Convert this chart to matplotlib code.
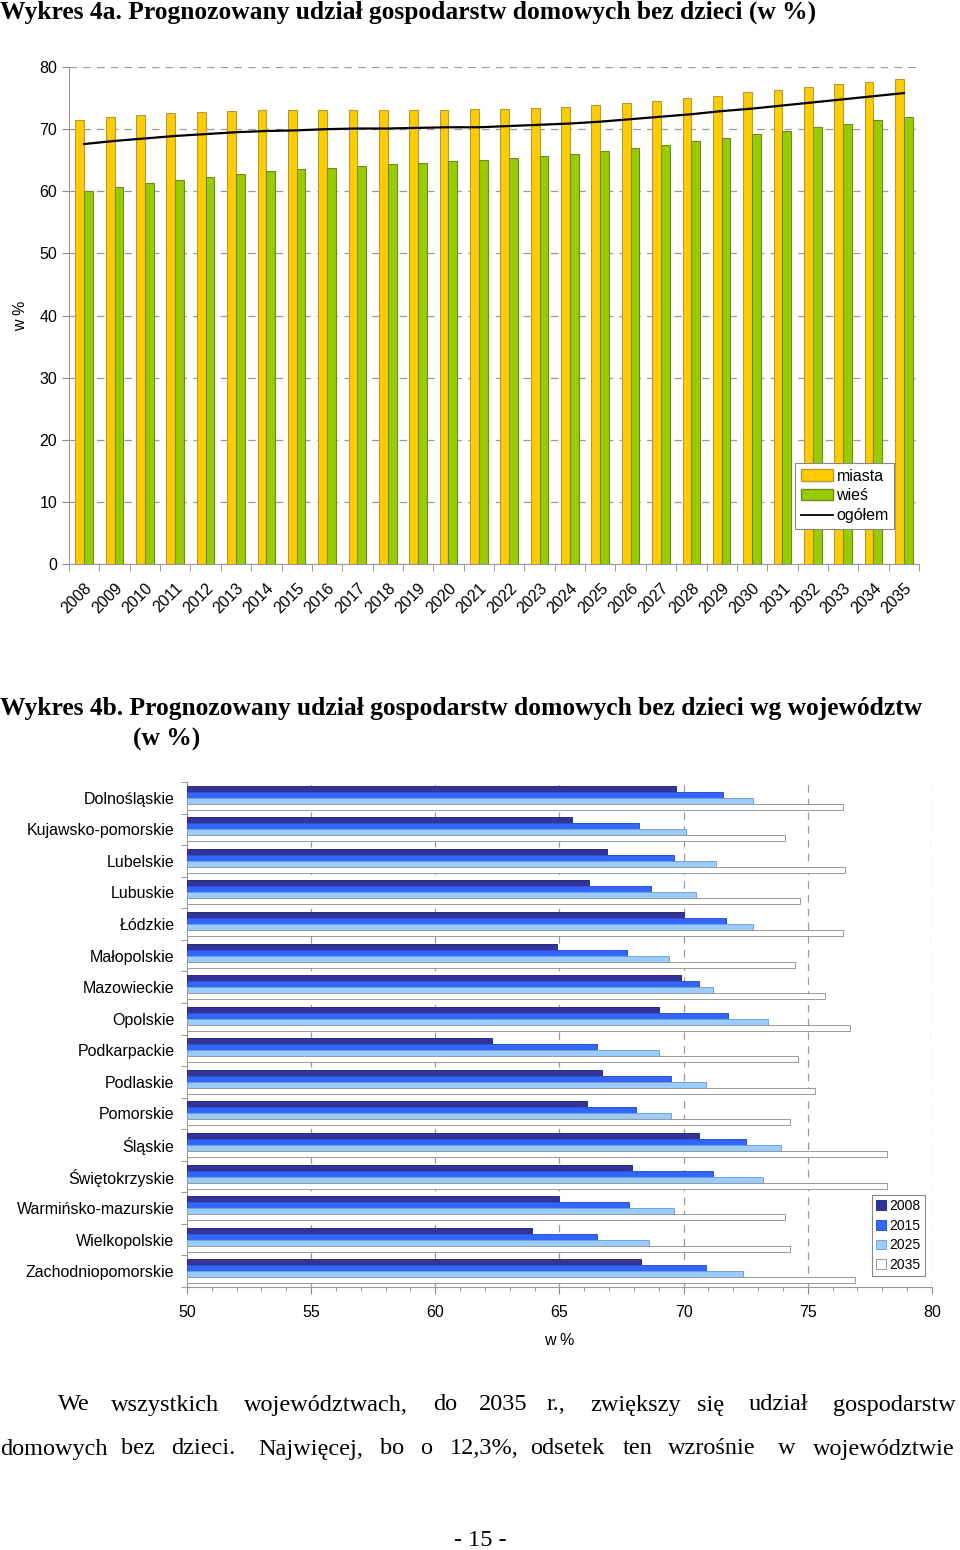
import numpy as np
import matplotlib
matplotlib.use("Agg")
import matplotlib.pyplot as plt
import matplotlib.transforms as mtrans
from matplotlib.patches import Patch
from matplotlib.lines import Line2D
from matplotlib.ticker import MultipleLocator

## data - chart 4a
lata = [str(r) for r in range(2008, 2036)]
miasta = [71.4, 71.9, 72.3, 72.6, 72.8, 72.9, 73.0, 73.1, 73.1, 73.1, 73.1, 73.1, 73.1, 73.2,
          73.3, 73.4, 73.6, 73.9, 74.2, 74.6, 75.0, 75.4, 75.9, 76.3, 76.8, 77.3, 77.6, 78.0]
wies = [60.0, 60.7, 61.3, 61.8, 62.3, 62.7, 63.2, 63.6, 63.8, 64.1, 64.4, 64.6, 64.8, 65.1,
        65.3, 65.6, 66.0, 66.4, 66.9, 67.4, 68.1, 68.6, 69.2, 69.7, 70.3, 70.9, 71.4, 71.9]
ogolem = [67.6, 68.1, 68.5, 68.9, 69.2, 69.5, 69.7, 69.8, 70.0, 70.1, 70.1, 70.2, 70.3, 70.3,
          70.5, 70.7, 70.9, 71.2, 71.6, 72.0, 72.4, 72.9, 73.3, 73.8, 74.3, 74.8, 75.3, 75.8]

## data - chart 4b
wojewodztwa = ['Dolnośląskie', 'Kujawsko-pomorskie', 'Lubelskie', 'Lubuskie', 'Łódzkie',
               'Małopolskie', 'Mazowieckie', 'Opolskie', 'Podkarpackie', 'Podlaskie',
               'Pomorskie', 'Śląskie', 'Świętokrzyskie', 'Warmińsko-mazurskie',
               'Wielkopolskie', 'Zachodniopomorskie']
lata_b = ['2008', '2015', '2025', '2035']
w2008 = [69.7, 65.5, 66.9, 66.2, 70.0, 64.9, 69.9, 69.0, 62.3, 66.7, 66.1, 70.6, 67.9, 65.0, 63.9, 68.3]
w2015 = [71.6, 68.2, 69.6, 68.7, 71.7, 67.7, 70.6, 71.8, 66.5, 69.5, 68.1, 72.5, 71.2, 67.8, 66.5, 70.9]
w2025 = [72.8, 70.1, 71.3, 70.5, 72.8, 69.4, 71.2, 73.4, 69.0, 70.9, 69.5, 73.9, 73.2, 69.6, 68.6, 72.4]
w2035 = [76.4, 74.1, 76.5, 74.7, 76.4, 74.5, 75.7, 76.7, 74.6, 75.3, 74.3, 78.2, 78.2, 74.1, 74.3, 76.9]

## body text lines (words with their x position in pixels)
linia1 = [('We', 58), ('wszystkich', 111), ('województwach,', 244), ('do', 433), ('2035', 479),
          ('r.,', 547), ('zwiększy', 590), ('się', 697), ('udział', 749), ('gospodarstw', 833)]
linia2 = [('domowych', 0), ('bez', 121), ('dzieci.', 171), ('Najwięcej,', 258), ('bo', 380),
          ('o', 420), ('12,3%,', 450), ('odsetek', 530), ('ten', 623), ('wzrośnie', 668),
          ('w', 778), ('województwie', 813)]

plt.rcParams['font.family'] = ['Liberation Sans', 'DejaVu Sans']
W, H = 960, 1550
fig = plt.figure(figsize=(W / 100, H / 100), dpi=100)

def fx(x):
    return x / W

def fy(y):
    return 1 - y / H

serif = ['Liberation Serif', 'DejaVu Serif']

## titles
fig.text(fx(0), fy(12), 'Wykres 4a. Prognozowany udział gospodarstw domowych bez dzieci (w %)',
         family=serif, fontweight='bold', fontsize=18.4, va='center', ha='left')
fig.text(fx(0), fy(709), 'Wykres 4b. Prognozowany udział gospodarstw domowych bez dzieci wg województw',
         family=serif, fontweight='bold', fontsize=18.4, va='center', ha='left')
fig.text(fx(133), fy(739), '(w %)', family=serif, fontweight='bold', fontsize=18.4,
         va='center', ha='left')

grid_col = '#9a9a9a'

## ---- chart 4a ----
ax1 = fig.add_axes([fx(69), fy(564), fx(919) - fx(69), fy(67) - fy(564)])
x = np.arange(len(lata))
bw = 0.29
ax1.bar(x - bw / 2, miasta, bw, color='#FFCC00', edgecolor='#B39B3A', linewidth=0.8,
        label='miasta', zorder=3)
ax1.bar(x + bw / 2, wies, bw, color='#99CC00', edgecolor='#6F8A20', linewidth=0.8,
        label='wieś', zorder=3)
ax1.plot(x, ogolem, color='black', linewidth=1.6, label='ogółem', zorder=4)
ax1.set_xlim(-0.5, len(lata) - 0.5)
ax1.set_ylim(0, 80)
ax1.set_yticks(range(0, 81, 10))
ax1.set_xticks(x)
ax1.set_xticklabels(lata, rotation=45, ha='right', rotation_mode='anchor', fontsize=11.5)
## shift the rotated year labels a little to the left, like in the source
off = mtrans.ScaledTranslation(-5 / 100, -2 / 100, fig.dpi_scale_trans)
for lab in ax1.get_xticklabels():
    lab.set_transform(lab.get_transform() + off)
ax1.set_xticks(np.arange(-0.5, len(lata), 1), minor=True)
ax1.tick_params(axis='x', which='major', length=0, pad=12)
ax1.tick_params(axis='x', which='minor', length=5, color='#888888')
ax1.tick_params(axis='y', labelsize=11.5, length=5, color='#888888')
ax1.yaxis.grid(True, color=grid_col, linestyle=(0, (6, 5)), linewidth=0.9, zorder=0)
for s in ['top', 'right']:
    ax1.spines[s].set_visible(False)
ax1.spines['left'].set_color('#999999')
ax1.spines['bottom'].set_color('#999999')
ax1.set_ylabel('w %', fontsize=11.5, labelpad=8)
leg1 = ax1.legend(handles=[Patch(facecolor='#FFCC00', edgecolor='#B39B3A', label='miasta'),
                           Patch(facecolor='#99CC00', edgecolor='#6F8A20', label='wieś'),
                           Line2D([0], [0], color='black', linewidth=1.3, label='ogółem')],
                  loc='upper left', bbox_to_anchor=((795 - 69) / 850, (564 - 463) / 497),
                  fontsize=11.5, fancybox=False, edgecolor='#888888', framealpha=1,
                  handlelength=2.0, handletextpad=0.25, borderpad=0.35, labelspacing=0.3,
                  borderaxespad=0)
leg1.get_frame().set_linewidth(0.8)

## ---- chart 4b ----
ax2 = fig.add_axes([fx(187), fy(1287), fx(932) - fx(187), fy(782) - fy(1287)])
y = np.arange(len(wojewodztwa))
bh = 0.19
serie = [w2008, w2015, w2025, w2035]
kolory = ['#333399', '#3366FF', '#99CCFF', '#FFFFFF']
krawedzie = ['#2a2a80', '#2a55cc', '#7aa0cc', '#999999']
for i, (vals, c, e, lab) in enumerate(zip(serie, kolory, krawedzie, lata_b)):
    ax2.barh(y - 1.5 * bh + i * bh, np.array(vals) - 50, bh, left=50, color=c,
             edgecolor=e, linewidth=0.7, label=lab, zorder=3)
ax2.set_xlim(50, 80)
ax2.set_ylim(len(wojewodztwa) - 0.5, -0.5)
ax2.set_xticks(range(50, 81, 5))
ax2.xaxis.set_minor_locator(MultipleLocator(1))
ax2.set_yticks(y)
ax2.set_yticklabels(wojewodztwa, fontsize=11.5)
ax2.set_yticks(np.arange(-0.5, len(wojewodztwa), 1), minor=True)
ax2.tick_params(axis='y', which='major', length=0, pad=9)
ax2.tick_params(axis='y', which='minor', length=4, color='#888888')
ax2.tick_params(axis='x', which='major', labelsize=11.5, length=5, color='#888888', pad=8)
ax2.tick_params(axis='x', which='minor', length=3, color='#888888')
ax2.xaxis.grid(True, color=grid_col, linestyle=(0, (6, 5)), linewidth=0.9, zorder=0)
for s in ['top', 'right']:
    ax2.spines[s].set_visible(False)
ax2.spines['left'].set_color('#999999')
ax2.spines['bottom'].set_color('#999999')
ax2.set_xlabel('w %', fontsize=11.5, labelpad=9)
leg2 = ax2.legend(loc='upper left', bbox_to_anchor=((872 - 187) / 745, (1287 - 1195) / 505),
                  fontsize=10, fancybox=False, edgecolor='#888888', framealpha=1,
                  handlelength=0.7, handleheight=0.7, handletextpad=0.25, borderpad=0.3,
                  labelspacing=0.4, borderaxespad=0)
leg2.get_frame().set_linewidth(0.8)

## ---- body text ----
for word, xp in linia1:
    fig.text(fx(xp), fy(1405), word, family=serif, fontsize=17.5, va='center', ha='left')
for word, xp in linia2:
    fig.text(fx(xp), fy(1449), word, family=serif, fontsize=17.5, va='center', ha='left')
fig.text(0.5, fy(1540), '- 15 -', family=serif, fontsize=17.5, va='center', ha='center')

fig.savefig('out.png', dpi=100)
